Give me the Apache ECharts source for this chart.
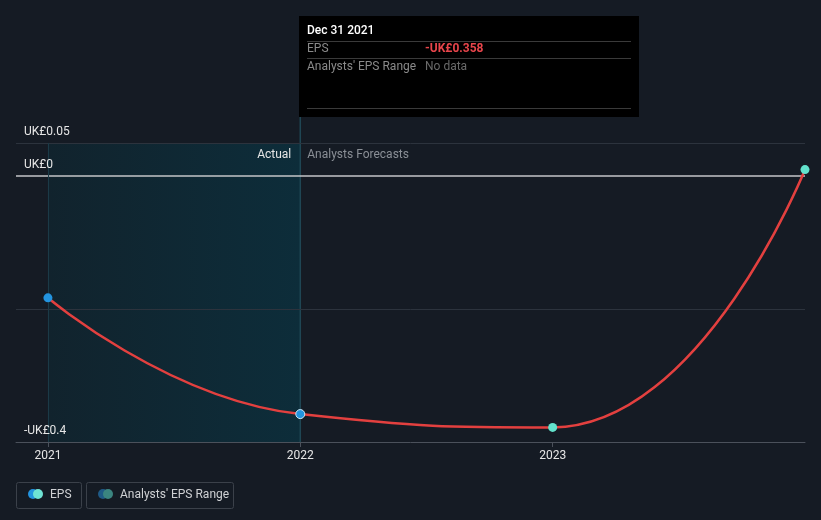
<!DOCTYPE html>
<html>
<head>
<meta charset="utf-8">
<script src="https://cdn.jsdelivr.net/npm/echarts@6/dist/echarts.min.js"></script>
<style>
html,body{margin:0;padding:0;background:#151b24;}
#c{width:821px;height:520px;}
</style>
</head>
<body>
<div id="c"></div>
<script>
// Data
var years = [2021, 2022, 2023, 2024];          // Dec 31 of previous year
var eps = [-0.183, -0.358, -0.378, 0.01];
var yTickValues = [-0.4, 0, 0.05];
var xTickValues = [2021, 2022, 2023];
var actualEnd = 2022;

var chart = echarts.init(document.getElementById('c'));
var font = 'Roboto, "Noto Sans", sans-serif';

function yFmt(v){
  if (Math.abs(v) < 1e-9) return 'UK£0';
  return (v < 0 ? '-UK£' : 'UK£') + Math.abs(v);
}

var markerColors = ['#2394df', '#2394df', '#62e2cc', '#62e2cc'];
var seriesData = years.map(function(y, i){
  return {
    value: [y, eps[i]],
    itemStyle: {color: markerColors[i], borderColor: i === 1 ? '#cfe8f7' : markerColors[i], borderWidth: i === 1 ? 1 : 0}
  };
});

chart.setOption({
  backgroundColor: '#151b24',
  animation: false,
  grid: {left: 16, right: 16, top: 143, bottom: 78},
  xAxis: {
    type: 'value',
    min: 2020.8735,
    max: 2024,
    axisLine: {show: true, onZero: false, lineStyle: {color: '#4b515b', width: 1}},
    axisTick: {show: true, customValues: xTickValues, length: 5, lineStyle: {color: '#4b515b'}},
    axisLabel: {customValues: xTickValues, color: '#e6e6e6', fontSize: 12, fontFamily: font, margin: 8,
      formatter: function(v){ return String(Math.round(v)); }},
    splitLine: {show: false}
  },
  yAxis: {
    type: 'value',
    min: -0.4,
    max: 0.05,
    z: 20,
    axisLine: {show: false},
    axisTick: {show: false},
    splitLine: {show: false},
    axisLabel: {
      customValues: yTickValues,
      inside: true, margin: 8,
      color: '#e6e6e6', fontSize: 12, fontFamily: font,
      verticalAlign: 'bottom', padding: [0, 0, 5, 0],
      formatter: yFmt
    }
  },
  series: [{
    type: 'line',
    data: seriesData,
    smooth: 0.5,
    symbol: 'circle',
    symbolSize: 9,
    showAllSymbol: true,
    lineStyle: {color: '#e3403f', width: 2.5},
    z: 5,
    markArea: {
      silent: true,
      itemStyle: {
        color: new echarts.graphic.LinearGradient(0, 0, 1, 0, [
          {offset: 0, color: '#11232d'},
          {offset: 1, color: '#0d2d3a'}
        ]),
        borderWidth: 0
      },
      data: [[{xAxis: years[0]}, {xAxis: actualEnd}]]
    },
    markLine: {
      silent: true,
      symbol: 'none',
      label: {show: false},
      data: [
        {yAxis: 0.05, lineStyle: {color: '#2c333d', width: 1, type: 'solid'}},
        {yAxis: -0.2, lineStyle: {color: '#2c333d', width: 1, type: 'solid'}},
        {yAxis: 0, lineStyle: {color: '#c4c6c9', width: 1.5, type: 'solid'}},
        {xAxis: years[0], lineStyle: {color: '#1b3a47', width: 1, type: 'solid'}}
      ]
    }
  }]
});

var xEnd = chart.convertToPixel({gridIndex: 0}, [actualEnd, 0])[0];
var yTop = chart.convertToPixel({gridIndex: 0}, [actualEnd, 0.05])[1];
var yBot = chart.convertToPixel({gridIndex: 0}, [actualEnd, -0.4])[1];

var tipX = Math.round(xEnd) - 1, tipY = 16, tipW = 340, tipH = 101;
function txt(x, y, s, color, weight){
  return {type: 'text', x: x, y: y, silent: true, z: 20,
    style: {text: s, fill: color, fontSize: 12, fontFamily: font, fontWeight: weight || 'normal', verticalAlign: 'middle'}};
}
function hline(x1, x2, y, color){
  return {type: 'line', silent: true, z: 20, shape: {x1: x1, y1: y, x2: x2, y2: y}, style: {stroke: color, lineWidth: 1}};
}

chart.setOption({
  graphic: [
    {type: 'line', silent: true, z: 3, shape: {x1: xEnd, y1: tipY + tipH, x2: xEnd, y2: yBot}, style: {stroke: '#1f4654', lineWidth: 1.5}},
    {type: 'text', silent: true, z: 10, x: xEnd - 9, y: yTop + 12,
      style: {text: 'Actual', fill: '#e6e6e6', fontSize: 12, fontFamily: font, align: 'right', verticalAlign: 'middle'}},
    {type: 'text', silent: true, z: 10, x: xEnd + 7, y: yTop + 12,
      style: {text: 'Analysts Forecasts', fill: '#8a8f96', fontSize: 12, fontFamily: font, align: 'left', verticalAlign: 'middle'}},
    // tooltip box
    {type: 'rect', silent: true, z: 19, shape: {x: tipX, y: tipY, width: tipW, height: tipH}, style: {fill: '#000000'}},
    txt(tipX + 8, 31, 'Dec 31 2021', '#ffffff', 500),
    hline(tipX + 8, tipX + tipW - 8, 41.5, '#3a3a3a'),
    txt(tipX + 8, 49, 'EPS', '#8a8a8a'),
    txt(tipX + 126, 49, '-UK£0.358', '#e8454b', 'bold'),
    hline(tipX + 8, tipX + tipW - 8, 58.5, '#3a3a3a'),
    txt(tipX + 8, 67, "Analysts' EPS Range", '#8a8a8a'),
    txt(tipX + 126, 67, 'No data', '#6a6a6a'),
    hline(tipX + 8, tipX + tipW - 8, 108.5, '#3a3a3a'),
    // legend
    {type: 'rect', silent: true, shape: {x: 16.5, y: 482.5, width: 65, height: 26, r: 2}, style: {fill: 'none', stroke: '#3b414a', lineWidth: 1}},
    {type: 'circle', silent: true, shape: {cx: 33, cy: 494, r: 5}, style: {fill: '#2394df'}},
    {type: 'circle', silent: true, shape: {cx: 38, cy: 494, r: 5}, style: {fill: '#6fe3d4'}},
    txt(50, 494.5, 'EPS', '#cfd1d4'),
    {type: 'rect', silent: true, shape: {x: 86.5, y: 482.5, width: 147, height: 26, r: 2}, style: {fill: 'none', stroke: '#3b414a', lineWidth: 1}},
    {type: 'circle', silent: true, shape: {cx: 103, cy: 494, r: 5}, style: {fill: '#1f5a86'}},
    {type: 'circle', silent: true, shape: {cx: 108, cy: 494, r: 5}, style: {fill: '#3b8580'}},
    txt(120, 494.5, "Analysts' EPS Range", '#cfd1d4')
  ]
});
</script>
</body>
</html>
